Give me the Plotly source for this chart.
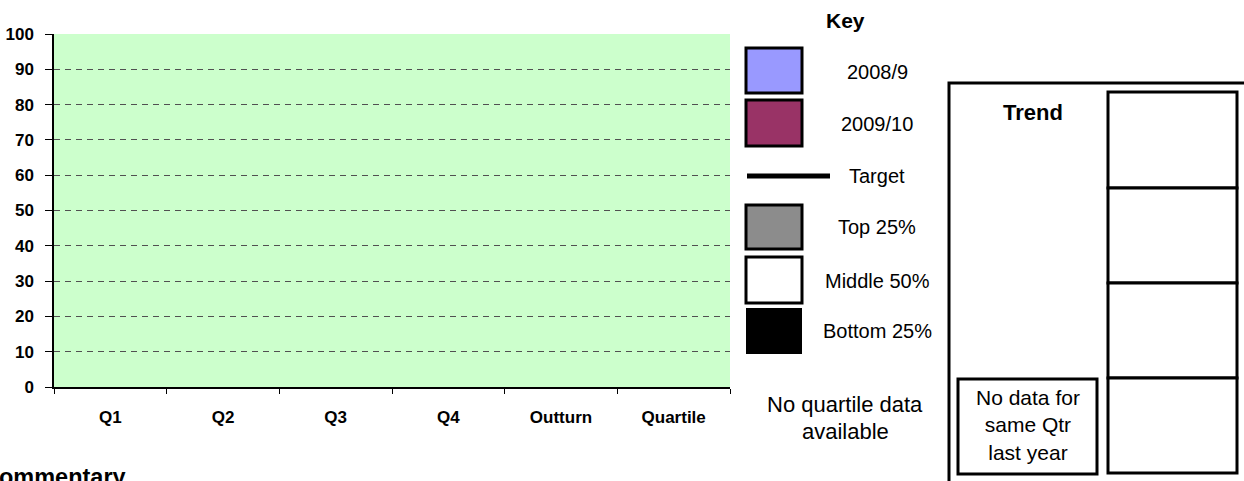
import plotly.graph_objects as go

# ---- data ----
categories = ["Q1", "Q2", "Q3", "Q4", "Outturn", "Quartile"]
series_2008_9 = [None, None, None, None, None, None]
series_2009_10 = [None, None, None, None, None, None]
target = [None, None, None, None, None, None]
y_ticks = [0, 10, 20, 30, 40, 50, 60, 70, 80, 90, 100]

key_labels = ["2008/9", "2009/10", "Target", "Top 25%", "Middle 50%", "Bottom 25%"]
key_colors = ["#9999FF", "#993366", "#000000", "#8C8C8C", "#FFFFFF", "#000000"]

# ---- layout geometry (page pixels) ----
FW, FH = 1244, 481
L, R, T, B = 54, 730, 34, 387          # plot area
W, H = R - L, B - T


def px(x):
    return (x - L) / W


def py(y):
    return (B - y) / H


FONT = "Liberation Sans, Arial, sans-serif"

fig = go.Figure()
fig.add_trace(go.Bar(x=categories, y=series_2008_9, name="2008/9",
                     marker=dict(color=key_colors[0], line=dict(color="black", width=1))))
fig.add_trace(go.Bar(x=categories, y=series_2009_10, name="2009/10",
                     marker=dict(color=key_colors[1], line=dict(color="black", width=1))))
fig.add_trace(go.Scatter(x=categories, y=target, name="Target", mode="lines",
                         line=dict(color="black", width=4)))

shapes = []
annotations = []


def text(t, x, y, size, xanchor="center"):
    annotations.append(dict(text=t, x=px(x), y=py(y), xref="paper", yref="paper",
                            xanchor=xanchor, yanchor="middle", showarrow=False,
                            font=dict(size=size, color="black", family=FONT)))


# Key
text("<b>Key</b>", 845, 21, 21)

box_rows = [(48, 93), (100, 146), None, (205, 249), (257, 303), (308, 354)]
label_y = [72, 124, 176, 227, 281, 331]
for i, lab in enumerate(key_labels):
    if box_rows[i] is None:
        shapes.append(dict(type="line", xref="paper", yref="paper",
                           x0=px(747), x1=px(830), y0=py(176), y1=py(176),
                           line=dict(color="black", width=5)))
    else:
        y0, y1 = box_rows[i]
        shapes.append(dict(type="rect", xref="paper", yref="paper",
                           x0=px(746), x1=px(802), y0=py(y1), y1=py(y0),
                           fillcolor=key_colors[i],
                           line=dict(color="black", width=3 if i != 5 else 0)))
    text(lab, 877, label_y[i], 20)

text("No quartile data", 845, 404, 22)
text("available", 845, 431, 22)

# Trend panel
shapes.append(dict(type="rect", xref="paper", yref="paper",
                   x0=px(949), x1=px(1270), y0=py(500), y1=py(83),
                   line=dict(color="black", width=3), fillcolor="rgba(0,0,0,0)"))
text("<b>Trend</b>", 1033, 112, 22)
trend_rows = [(92, 188), (188, 283), (283, 378), (378, 473)]
for y0, y1 in trend_rows:
    shapes.append(dict(type="rect", xref="paper", yref="paper",
                       x0=px(1108), x1=px(1237), y0=py(y1), y1=py(y0),
                       line=dict(color="black", width=3), fillcolor="white"))
shapes.append(dict(type="rect", xref="paper", yref="paper",
                   x0=px(958), x1=px(1097), y0=py(474), y1=py(379),
                   line=dict(color="black", width=3), fillcolor="white"))
text("No data for<br>same Qtr<br>last year", 1028, 425, 21)

# Commentary (partially cut off at the bottom-left edge, as in the reference)
text("<b>Commentary</b>", 128, 477, 23.5, xanchor="right")

fig.update_layout(
    width=FW, height=FH,
    margin=dict(l=L, r=FW - R, t=T, b=FH - B, pad=0, autoexpand=False),
    paper_bgcolor="white",
    plot_bgcolor="#CCFFCC",
    showlegend=False,
    barmode="group",
    font=dict(family=FONT, color="black"),
    shapes=shapes,
    annotations=annotations,
)
fig.update_xaxes(
    type="category", categoryorder="array", categoryarray=categories,
    range=[-0.5, 5.5], showgrid=False, zeroline=False, automargin=False,
    showline=True, linecolor="black", linewidth=1.5,
    ticks="outside", tickson="boundaries", ticklen=5, tickcolor="black",
    tickfont=dict(size=17, family=FONT, color="black", weight="bold"),
    ticklabelstandoff=14,
)
fig.update_yaxes(
    range=[0, 100], tickvals=y_ticks, zeroline=False, automargin=False,
    showline=True, linecolor="black", linewidth=1.5,
    ticks="outside", ticklen=7, tickcolor="black",
    showgrid=True, gridcolor="#505050", gridwidth=1, griddash="6px,5px",
    tickfont=dict(size=17, family=FONT, color="black", weight="bold"),
    ticklabelstandoff=8,
)

fig.write_html(
    "out.html",
    config={"displayModeBar": False},
    post_script="document.body.style.margin='0';document.body.style.overflow='hidden';",
)
